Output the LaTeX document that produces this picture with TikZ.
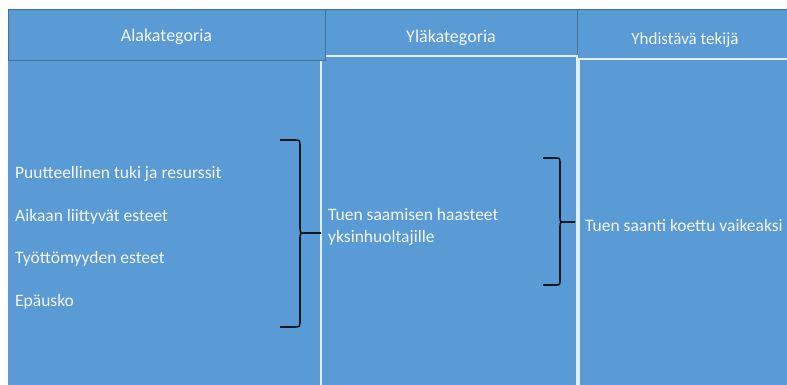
\documentclass[tikz,border=0pt]{standalone}
\usepackage{fontspec}
\setmainfont{Carlito}
\usepackage{tikz}
\definecolor{boxblue}{HTML}{5B9BD5}
\definecolor{edgeblue}{HTML}{41719C}
\definecolor{paleline}{HTML}{E2EEF8}
\definecolor{boxtext}{HTML}{F4F6F8}
\definecolor{braceink}{HTML}{101820}
\newcommand{\bodyfont}{\fontsize{17.5}{22}\selectfont}
\newcommand{\headfont}{\fontsize{18}{22}\selectfont}

\begin{document}
\begin{tikzpicture}[x=1pt,y=-1pt,
	header/.style={draw=edgeblue, line width=1pt, fill=boxblue, text=boxtext,
		inner sep=0pt, text depth=0pt, font=\headfont},
	colbox/.style={draw=paleline, line width=1.5pt, fill=boxblue},
	item/.style={text=boxtext, inner sep=0pt, anchor=west, font=\bodyfont, align=left},
	bracestyle/.style={draw=braceink, line width=1.6pt}]
	\useasboundingbox[fill=white] (0,0) rectangle (787,385);

	% headers behind
	\node[header, minimum width=252pt, minimum height=53pt] (h2) at (451,36.5) {Yläkategoria};
	\node[header, minimum width=216pt, minimum height=58pt, font=\fontsize{17}{21}\selectfont]
		(h3) at (685,39) {Yhdistävä tekijä};

	% column bodies
	\draw[colbox] (321,56) rectangle (577,400);
	\draw[colbox] (579,59) rectangle (800,400);
	\fill[boxblue] (8,61) rectangle (320,400);
	\node[header, minimum width=317pt, minimum height=51pt] (h1) at (166.5,35.5) {Alakategoria};

	% texts
	\node[item] (s1) at (15,174) {Puutteellinen tuki ja resurssit};
	\node[item] (s2) at (15,217) {Aikaan liittyvät esteet};
	\node[item] (s3) at (15,259) {Työttömyyden esteet};
	\node[item] (s4) at (15,302) {Epäusko};
	\node[item] (m1) at (328,227) {Tuen saamisen haasteet\\yksinhuoltajille};
	\node[item] (t1) at (585,225) {Tuen saanti koettu vaikeaksi};

	% braces
	\draw[bracestyle] (280,140) -- (294,140) .. controls (300,140) .. (300,147) -- (300,227)
		.. controls (300,233) .. (306,233) -- (321,233);
	\draw[bracestyle] (280,327) -- (294,327) .. controls (300,327) .. (300,320) -- (300,239)
		.. controls (300,233) .. (306,233);
	\draw[bracestyle] (543,158) -- (555,158) .. controls (560,158) .. (560,164) -- (560,216)
		.. controls (560,222) .. (565,222) -- (575,222);
	\draw[bracestyle] (543,285) -- (555,285) .. controls (560,285) .. (560,279) -- (560,228)
		.. controls (560,222) .. (565,222);
\end{tikzpicture}
\end{document}
